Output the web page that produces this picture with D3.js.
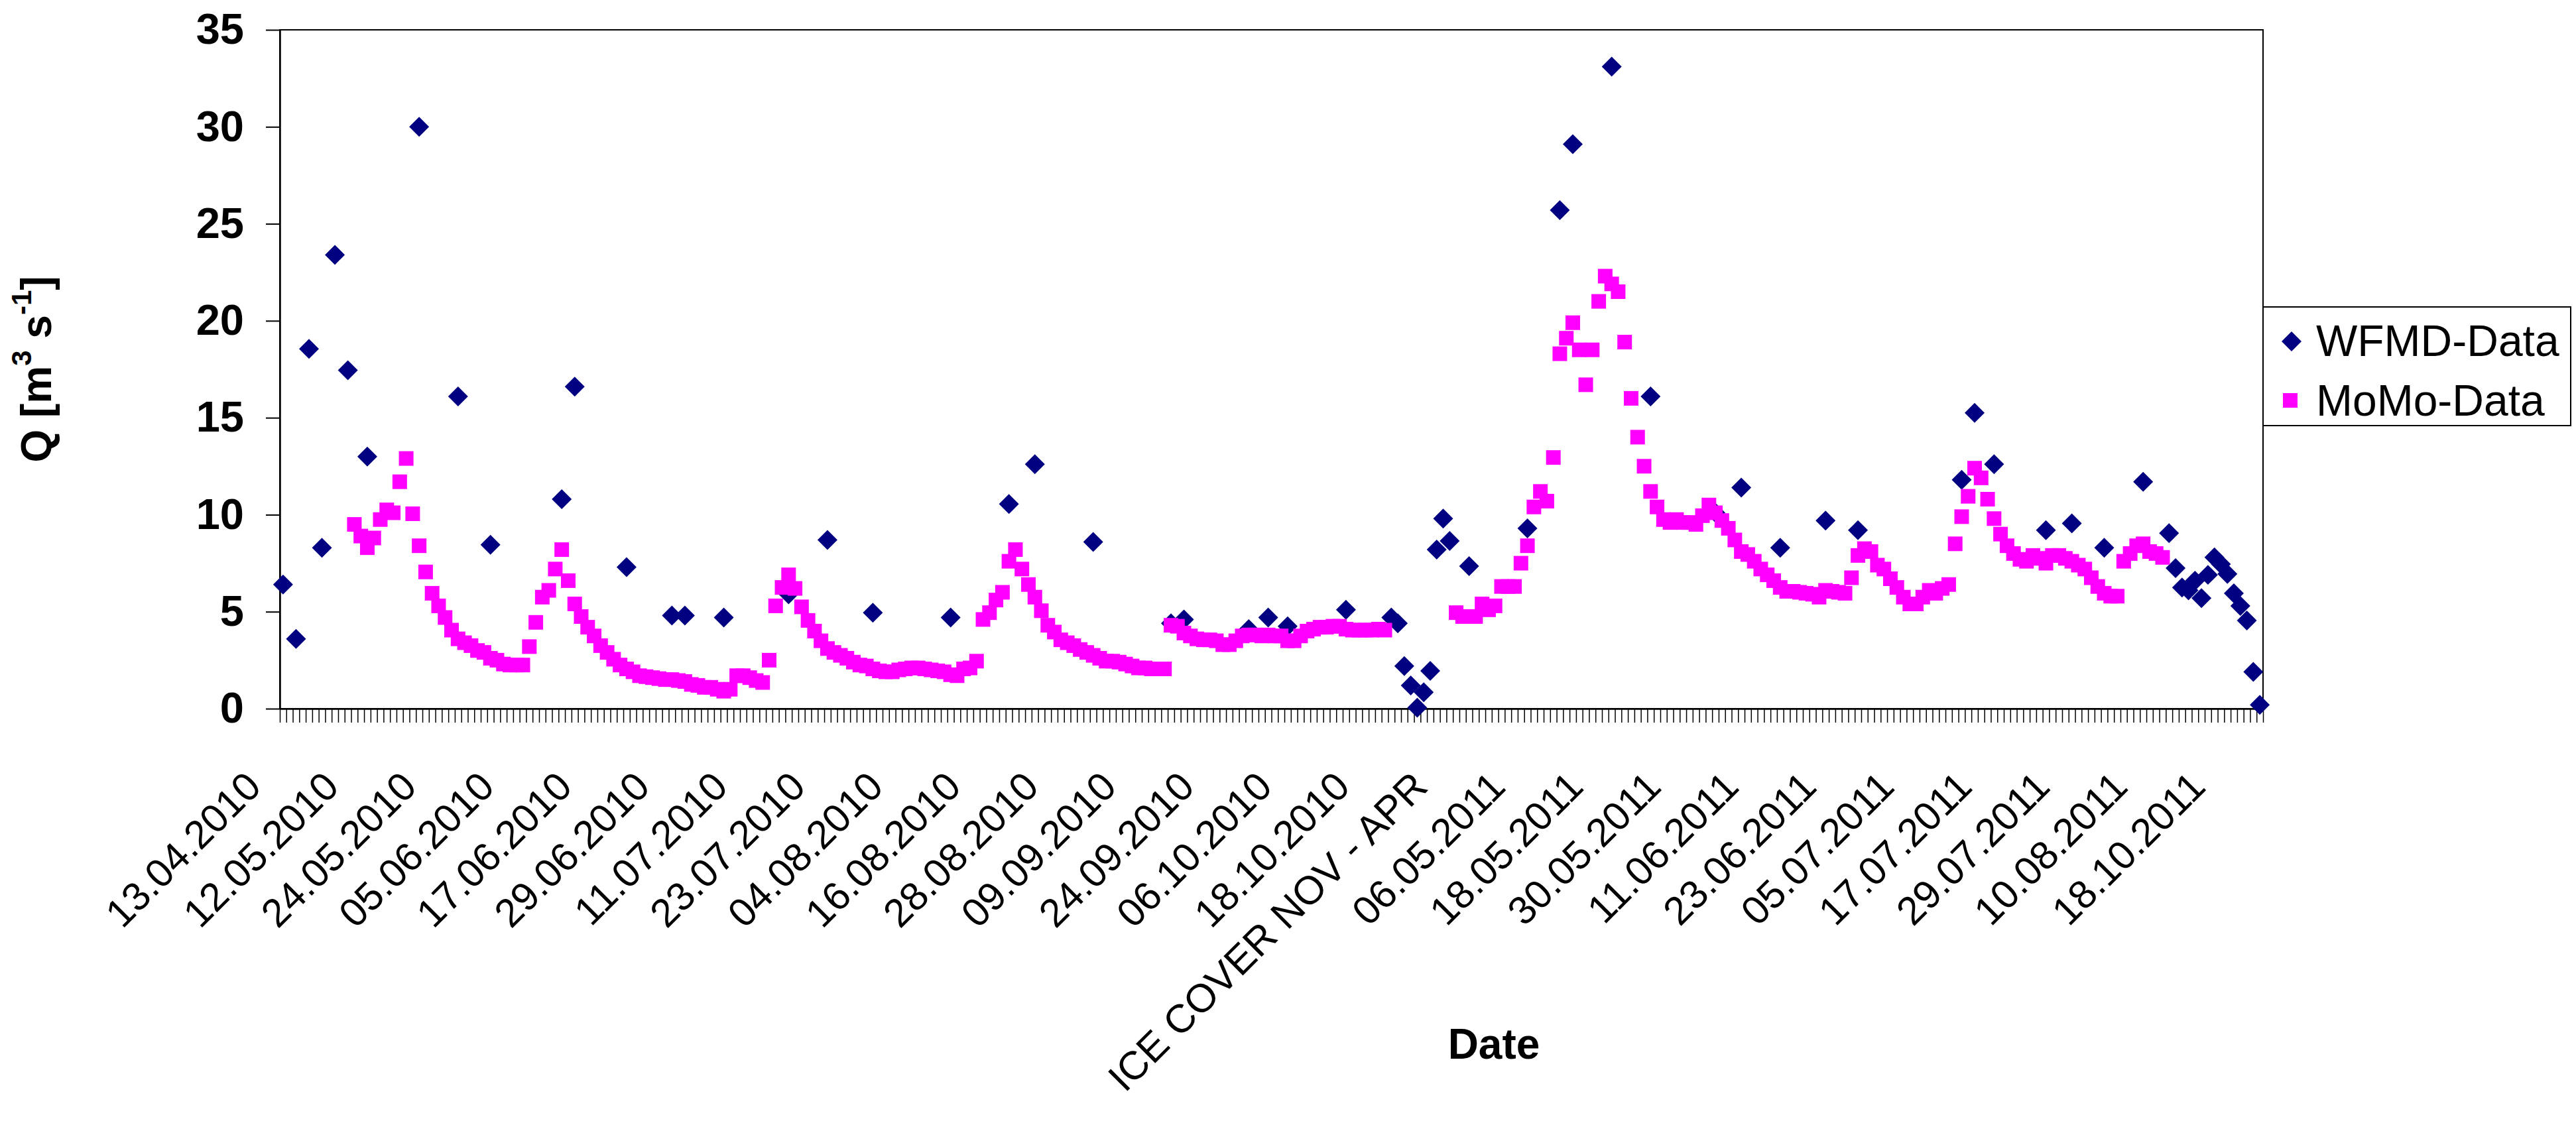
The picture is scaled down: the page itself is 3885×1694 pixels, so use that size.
<!DOCTYPE html>
<html><head><meta charset="utf-8">
<script src="https://cdn.jsdelivr.net/npm/d3@7"></script>
<style>html,body{margin:0;padding:0;background:#fff;} svg{display:block;}</style>
</head><body>
<svg id="chart" width="3885" height="1694"></svg>
<script>
// ---------------- DATA ----------------
const nCategories = 306;
const labelEvery = 12;
const tickLabels = ["13.04.2010","12.05.2010","24.05.2010","05.06.2010","17.06.2010","29.06.2010",
  "11.07.2010","23.07.2010","04.08.2010","16.08.2010","28.08.2010","09.09.2010","24.09.2010",
  "06.10.2010","18.10.2010","ICE COVER NOV - APR","06.05.2011","18.05.2011","30.05.2011",
  "11.06.2011","23.06.2011","05.07.2011","17.07.2011","29.07.2011","10.08.2011","18.10.2011"];
const yTicks = [0,5,10,15,20,25,30,35];

const wfmdIdx = [0,2,4,6,8,10,13,21,27,32,43,45,53,60,62,68,78,84,91,103,112,116,125,137,139,149,152,155,164,171,
  172,173,174,175,176,177,178,179,180,183,192,197,199,205,211,221,225,231,238,243,259,261,264,272,276,281,287,291,292,293,
  294,295,296,297,298,299,300,301,302,303,304,305];
const wfmdVal = [6.4,3.6,18.55,8.3,23.4,17.45,13.0,30.0,16.1,8.45,10.8,16.6,7.3,4.8,4.8,4.7,5.9,8.7,4.95,4.7,
  10.55,12.6,8.6,4.4,4.6,4.1,4.7,4.25,5.1,4.7,4.4,2.2,1.2,0.05,0.85,1.95,8.2,9.8,8.65,7.35,
  9.3,25.7,29.1,33.1,16.1,10.1,11.4,8.3,9.7,9.2,11.8,15.25,12.6,9.2,9.55,8.3,11.7,9.05,7.25,6.25,
  6.1,6.6,5.7,6.9,7.8,7.45,6.95,5.95,5.3,4.55,1.9,0.2];

const momoSeg1Start = 11;
const momoSeg1 = [9.5,8.9,8.3,8.8,9.75,10.25,10.1,11.7,12.9,10.05,
  8.4,7.05,5.95,5.3,4.7,4.05,3.6,3.4,3.25,3.0,
  2.9,2.6,2.5,2.3,2.25,2.25,2.25,3.2,4.45,5.75,
  6.1,7.2,8.2,6.6,5.4,4.75,4.2,3.75,3.25,2.9,
  2.55,2.25,2.05,1.9,1.7,1.65,1.6,1.55,1.5,1.5,
  1.45,1.4,1.25,1.2,1.1,1.1,1.0,0.9,1.0,1.7,
  1.7,1.6,1.45,1.35,2.5,5.3,6.25,6.9,6.2,5.25,
  4.55,4.0,3.5,3.1,2.9,2.75,2.6,2.4,2.25,2.2,
  2.05,1.95,1.9,1.9,2.0,2.05,2.1,2.1,2.05,2.0,
  1.95,1.9,1.75,1.7,2.05,2.1,2.45,4.6,4.95,5.6,
  6.0,7.6,8.2,7.2,6.4,5.75,5.05,4.3,3.95,3.55,
  3.4,3.25,3.05,2.9,2.75,2.6,2.45,2.45,2.4,2.3,
  2.2,2.1,2.1,2.05,2.05,2.05,4.3,4.25,3.9,3.75,
  3.6,3.55,3.55,3.5,3.3,3.3,3.5,3.75,3.8,3.8,
  3.75,3.8,3.75,3.75,3.5,3.5,3.75,4.0,4.1,4.2,
  4.2,4.25,4.25,4.1,4.05,4.05,4.05,4.05,4.1,4.05];
const momoSeg2Start = 181;
const momoSeg2 = [4.95,4.75,4.75,4.75,5.4,5.1,5.3,6.3,6.3,6.3,
  7.5,8.4,10.4,11.2,10.7,12.95,18.3,19.1,19.9,18.5,
  16.7,18.5,21.0,22.3,21.9,21.5,18.9,16.0,14.0,12.5,
  11.2,10.4,9.75,9.6,9.75,9.6,9.6,9.5,9.95,10.5,
  10.1,9.7,9.3,8.7,8.1,7.95,7.6,7.2,6.9,6.6,
  6.25,6.05,6.05,6.0,5.95,5.9,5.75,6.1,6.05,6.0,
  5.95,6.75,7.9,8.25,8.1,7.4,7.2,6.7,6.25,5.75,
  5.4,5.4,5.75,6.1,5.95,6.2,6.4,8.5,9.9,10.95,
  12.4,11.9,10.8,9.8,9.0,8.4,8.0,7.7,7.6,7.9,
  7.75,7.5,7.9,7.9,7.75,7.6,7.4,7.2,6.75,6.3,
  5.95,5.8,5.8,7.6,8.0,8.4,8.5,8.1,8.0,7.8];

const seriesNames = ["WFMD-Data","MoMo-Data"];
const seriesColors = ["#000080","#FF00FF"];

// ---------------- BUILD ----------------
const wfmd = wfmdIdx.map((i,k)=>({i:i, v:wfmdVal[k]}));
const momo = momoSeg1.map((v,k)=>({i:momoSeg1Start+k, v:v}))
  .concat(momoSeg2.map((v,k)=>({i:momoSeg2Start+k, v:v})));

const FONT = '"Liberation Sans", Arial, sans-serif';
const svg = d3.select('#chart');
const L = 422, R = 3413, T = 45, B = 1069;

const x = d3.scaleBand().domain(d3.range(nCategories)).range([L, R]).padding(0);
const xb = d3.scaleLinear().domain([0, nCategories]).range([L, R]);
const y = d3.scaleLinear().domain([0, 35]).range([B, T]);
const cx = i => x(i) + x.bandwidth() / 2;

// plot border
svg.append('rect').attr('x', L).attr('y', T).attr('width', R - L).attr('height', B - T)
  .attr('fill', 'none').attr('stroke', '#000').attr('stroke-width', 2);

// y axis
const gy = svg.append('g').attr('transform', `translate(${L},0)`)
  .call(d3.axisLeft(y).tickValues(yTicks).tickSize(21).tickSizeOuter(0).tickPadding(33));
gy.select('.domain').attr('stroke', '#000').attr('stroke-width', 2.5);
gy.selectAll('.tick line').attr('stroke', '#000').attr('stroke-width', 2);
gy.selectAll('.tick text').attr('font-family', FONT).attr('font-size', 65).attr('font-weight', 'bold').attr('fill', '#000');

// x axis (category ticks)
const gx = svg.append('g').attr('transform', `translate(0,${B})`)
  .call(d3.axisBottom(xb).tickValues(d3.range(0, nCategories + 1)).tickSize(21).tickSizeOuter(0).tickFormat(''));
gx.select('.domain').attr('stroke', '#000').attr('stroke-width', 2.5);
gx.selectAll('.tick line').attr('stroke', '#000').attr('stroke-width', 1.5);

// x labels
svg.append('g').selectAll('text').data(tickLabels).join('text')
  .attr('transform', (d, k) => `translate(${cx(k * labelEvery) - 45},${B + 106}) rotate(-45)`)
  .attr('text-anchor', 'end').attr('dy', '0.35em')
  .attr('font-family', FONT).attr('font-size', 60).attr('fill', '#000')
  .text(d => d);

// axis titles
svg.append('text').attr('x', 2253).attr('y', 1597).attr('text-anchor', 'middle')
  .attr('font-family', FONT).attr('font-size', 64).attr('font-weight', 'bold').text('Date');

const yt = svg.append('text').attr('transform', `translate(77,${(T + B) / 2}) rotate(-90)`)
  .attr('text-anchor', 'middle').attr('font-family', FONT).attr('font-size', 64).attr('font-weight', 'bold');
yt.append('tspan').text('Q [m');
yt.append('tspan').attr('font-size', 42).attr('dy', -30).text('3');
yt.append('tspan').attr('dy', 30).text(' s');
yt.append('tspan').attr('font-size', 42).attr('dy', -30).text('-1');
yt.append('tspan').attr('dy', 30).text(']');

// markers
const diamond = d3.symbol().type(d3.symbolSquare).size(450);
const square = d3.symbol().type(d3.symbolSquare).size(484);

svg.append('g').selectAll('path').data(wfmd).join('path')
  .attr('d', diamond)
  .attr('transform', d => `translate(${cx(d.i)},${y(d.v)}) rotate(45)`)
  .attr('fill', seriesColors[0]);

svg.append('g').selectAll('path').data(momo).join('path')
  .attr('d', square)
  .attr('transform', d => `translate(${cx(d.i)},${y(d.v)})`)
  .attr('fill', seriesColors[1]);

// legend
const lg = svg.append('g');
lg.append('rect').attr('x', 3413).attr('y', 463).attr('width', 464).attr('height', 179)
  .attr('fill', '#fff').attr('stroke', '#000').attr('stroke-width', 2);
const legY = [515, 604];
lg.append('path').attr('d', diamond).attr('transform', `translate(3456,${legY[0]}) rotate(45)`).attr('fill', seriesColors[0]);
lg.append('path').attr('d', square).attr('transform', `translate(3454,${legY[1]})`).attr('fill', seriesColors[1]);
lg.selectAll('text.leg').data(seriesNames).join('text').attr('class', 'leg')
  .attr('x', 3493).attr('y', (d, k) => [537, 627][k])
  .attr('font-family', FONT).attr('font-size', 66).attr('fill', '#000').text(d => d);
</script>
</body></html>
